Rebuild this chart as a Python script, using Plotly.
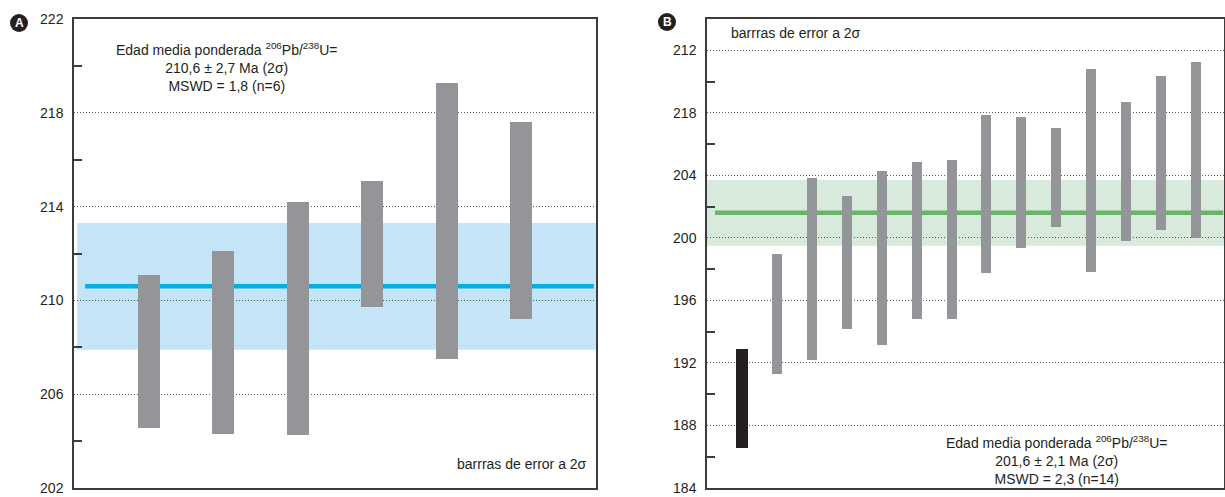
import plotly.graph_objects as go

# Panel A: zircon 206Pb/238U ages (Ma), 2-sigma error bars
a_pos = [1, 2, 3, 4, 5, 6]
a_low = [204.55, 204.30, 204.26, 209.72, 207.49, 209.20]
a_high = [211.08, 212.10, 214.20, 215.08, 219.29, 217.61]
a_mean = 210.6
a_err = 2.7
a_tickvals = [202, 206, 210, 214, 218, 222]
a_ticktext = ["202", "206", "210", "214", "218", "222"]
a_minor = [204, 208, 212, 216, 220]

# Panel B: first analysis plotted in black, the rest in grey
b_pos = list(range(1, 15))
b_low = [186.58, 191.32, 192.21, 194.18, 193.16, 194.81, 194.81,
         197.73, 199.38, 200.72, 197.80, 199.83, 200.53, 200.02]
b_high = [192.89, 198.94, 203.83, 202.69, 204.27, 204.85, 204.97,
          207.83, 207.70, 207.00, 210.78, 208.69, 210.34, 211.23]
b_mean = 201.6
b_err = 2.1
b_tickvals = [184, 188, 192, 196, 200, 204, 208, 212]
b_ticktext = ["184", "188", "192", "196", "200", "204", "218", "212"]
b_minor = [186, 190, 194, 198, 202, 206, 210]

W, H = 1225, 497
INK = "#231f20"
AXIS = "#3c3c3c"
GREY = "#939598"

def px(x):
    return x / W

def py(y):
    return 1 - y / H

fig = go.Figure()

fig.add_trace(go.Bar(
    x=a_pos, y=[h - l for l, h in zip(a_low, a_high)], base=a_low,
    width=0.295, marker=dict(color=GREY, line=dict(width=0)),
    xaxis="x", yaxis="y", showlegend=False, hoverinfo="skip"))

fig.add_trace(go.Bar(
    x=b_pos[:1], y=[b_high[0] - b_low[0]], base=b_low[:1],
    width=0.34, marker=dict(color=INK, line=dict(width=0)),
    xaxis="x2", yaxis="y2", showlegend=False, hoverinfo="skip"))
fig.add_trace(go.Bar(
    x=b_pos[1:], y=[h - l for l, h in zip(b_low[1:], b_high[1:])], base=b_low[1:],
    width=0.287, marker=dict(color=GREY, line=dict(width=0)),
    xaxis="x2", yaxis="y2", showlegend=False, hoverinfo="skip"))

shapes = [
    # weighted-mean uncertainty bands
    dict(type="rect", xref="x", yref="y", x0=0.04, x1=7, y0=a_mean - a_err, y1=a_mean + a_err,
         fillcolor="#c4e5f7", line=dict(width=0), layer="below"),
    dict(type="line", xref="x", yref="y", x0=0.15, x1=6.97, y0=a_mean, y1=a_mean,
         line=dict(color="#00aee8", width=4.5), layer="below"),
    dict(type="rect", xref="x2", yref="y2", x0=0, x1=14.8, y0=b_mean - b_err, y1=b_mean + b_err,
         fillcolor="#d7eadb", line=dict(width=0), layer="below"),
    dict(type="line", xref="x2", yref="y2", x0=0.23, x1=14.78, y0=b_mean, y1=b_mean,
         line=dict(color="#6ab469", width=4.5), layer="below"),
    # panel badges
    dict(type="circle", xref="paper", yref="paper", x0=px(10), x1=px(28), y0=py(32), y1=py(14),
         fillcolor=INK, line=dict(width=0)),
    dict(type="circle", xref="paper", yref="paper", x0=px(658), x1=px(676), y0=py(31), y1=py(13),
         fillcolor=INK, line=dict(width=0)),
]

font = dict(family="Liberation Sans, Arial, sans-serif", size=14, color=INK)

def note(text, x, y, xanchor="center", **kw):
    return dict(text=text, x=px(x), y=py(y), xref="paper", yref="paper", showarrow=False,
                xanchor=xanchor, yanchor="middle", **kw)

badge_font = dict(family="Liberation Sans, Arial", size=12, color="white", weight="bold")

annotations = [
    note("A", 19, 23, font=badge_font),
    note("B", 667, 22, font=badge_font),
    note("Edad media ponderada <sup>206</sup>Pb/<sup>238</sup>U=<br>210,6 ± 2,7 Ma (2σ)<br>MSWD = 1,8 (n=6)",
         226, 67, align="center", font=font),
    note("barrras de error a 2σ", 589, 464, xanchor="right", font=font),
    note("barrras de error a 2σ", 729, 33, xanchor="left", font=font),
    note("Edad media ponderada <sup>206</sup>Pb/<sup>238</sup>U=<br>201,6 ± 2,1 Ma (2σ)<br>MSWD = 2,3 (n=14)",
         1056, 460, align="center", font=font),
]

def yaxis_cfg(rng, vals, text, minor_vals, domain):
    return dict(
        range=rng, domain=domain, tickmode="array", tickvals=vals, ticktext=text,
        ticks="", showgrid=True, gridcolor="#5a5a5a", griddash="1px,2px", gridwidth=1,
        zeroline=False, showline=True, linecolor=AXIS, linewidth=1.5, mirror=True,
        tickfont=font, ticklabelstandoff=6, automargin=False, ticklabeloverflow="allow",
        minor=dict(tickmode="array", tickvals=minor_vals, ticks="inside", ticklen=8,
                   tickwidth=1.5, tickcolor=AXIS, showgrid=False),
    )

def xaxis_cfg(rng, domain, anchor):
    return dict(range=rng, domain=domain, anchor=anchor, showticklabels=False, ticks="",
                showgrid=False, zeroline=False, showline=True, linecolor=AXIS,
                linewidth=1.5, mirror=True, fixedrange=True, automargin=False)

ydom = [py(488), py(19)]

fig.update_layout(
    width=W, height=H,
    margin=dict(l=0, r=0, t=0, b=0, pad=0),
    paper_bgcolor="white", plot_bgcolor="white",
    barmode="overlay", bargap=0,
    xaxis=xaxis_cfg([0, 7], [px(74), px(596)], "y"),
    yaxis={**yaxis_cfg([202, 222], a_tickvals, a_ticktext, a_minor, ydom), "anchor": "x"},
    xaxis2=xaxis_cfg([0, 14.8], [px(707), px(1224)], "y2"),
    yaxis2={**yaxis_cfg([184, 214], b_tickvals, b_ticktext, b_minor, ydom), "anchor": "x2"},
    shapes=shapes,
    annotations=annotations,
    font=font,
)

fig.write_html("out.html")
